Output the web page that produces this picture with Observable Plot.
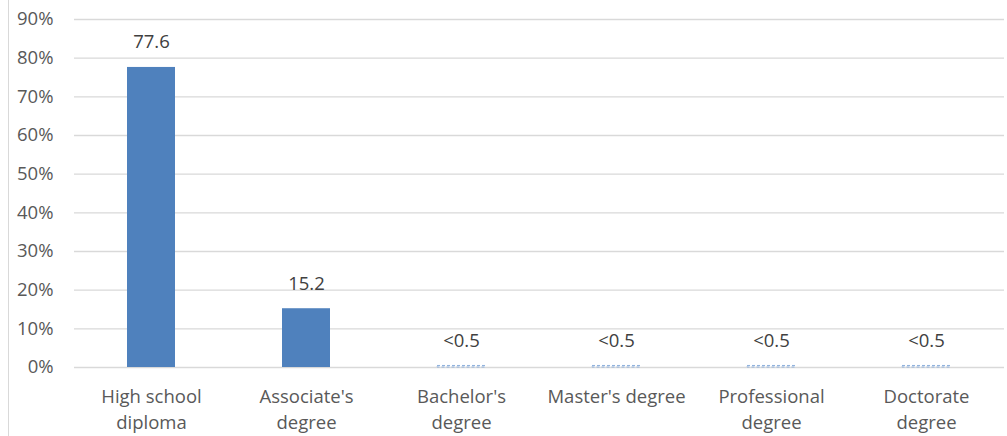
<!DOCTYPE html>
<html><head><meta charset="utf-8">
<script src="https://cdn.jsdelivr.net/npm/d3@7"></script>
<script src="https://cdn.jsdelivr.net/npm/@observablehq/plot@0.6"></script>
<style>
body{margin:0;background:#fff;}
#chart{position:relative;width:1007px;height:436px;}
#border{position:absolute;left:8px;top:0;width:1px;height:436px;background:#d9d9d9;}
</style></head>
<body><div id="chart"><div id="border"></div></div>
<script>
const categories = ["High school\ndiploma","Associate's\ndegree","Bachelor's\ndegree","Master's degree","Professional\ndegree","Doctorate\ndegree"];
const values = [77.6, 15.2, 0.4, 0.4, 0.4, 0.4];
const labels = ["77.6","15.2","<0.5","<0.5","<0.5","<0.5"];
const yTicks = [0,10,20,30,40,50,60,70,80,90];

const data = categories.map((c,i)=>({cat:c, v:values[i], label:labels[i], small: values[i] < 0.5}));
const font = "'Open Sans', sans-serif";
const fs = 18.5;

const plot = Plot.plot({
  width: 1007, height: 436,
  marginTop: 19, marginBottom: 69, marginLeft: 74, marginRight: 3,
  style: {fontFamily: font, fontSize: fs + "px", color: "#595959", background: "transparent"},
  x: {domain: categories, paddingInner: 0.69, paddingOuter: 0.345, label: null},
  y: {domain: [0, 90], label: null},
  marks: [
    Plot.gridY(yTicks, {stroke: "#d9d9d9", strokeOpacity: 1, strokeWidth: 1.3}),
    Plot.axisY({ticks: yTicks, tickSize: 0, tickPadding: 21, tickFormat: d => d + "%", fontSize: fs, fill: "#595959", label: null}),
    Plot.axisX({tickSize: 0, tickPadding: 17, fontSize: fs, fill: "#595959", lineHeight: 1.4, label: null}),
    Plot.barY(data.filter(d=>!d.small), {x: "cat", y: "v", fill: "#4f81bd"}),
    Plot.barY(data.filter(d=>d.small), {x: "cat", y: "v", fill: "none", stroke: "#8eb0dc", strokeWidth: 1, strokeDasharray: "3,2"}),
    Plot.text(data, {x: "cat", y: "v", text: "label", dy: -25, fontSize: fs, fill: "#404040"})
  ]
});
document.getElementById("chart").appendChild(plot);
plot.style.position = "absolute"; plot.style.left = "0"; plot.style.top = "0";
</script></body></html>
